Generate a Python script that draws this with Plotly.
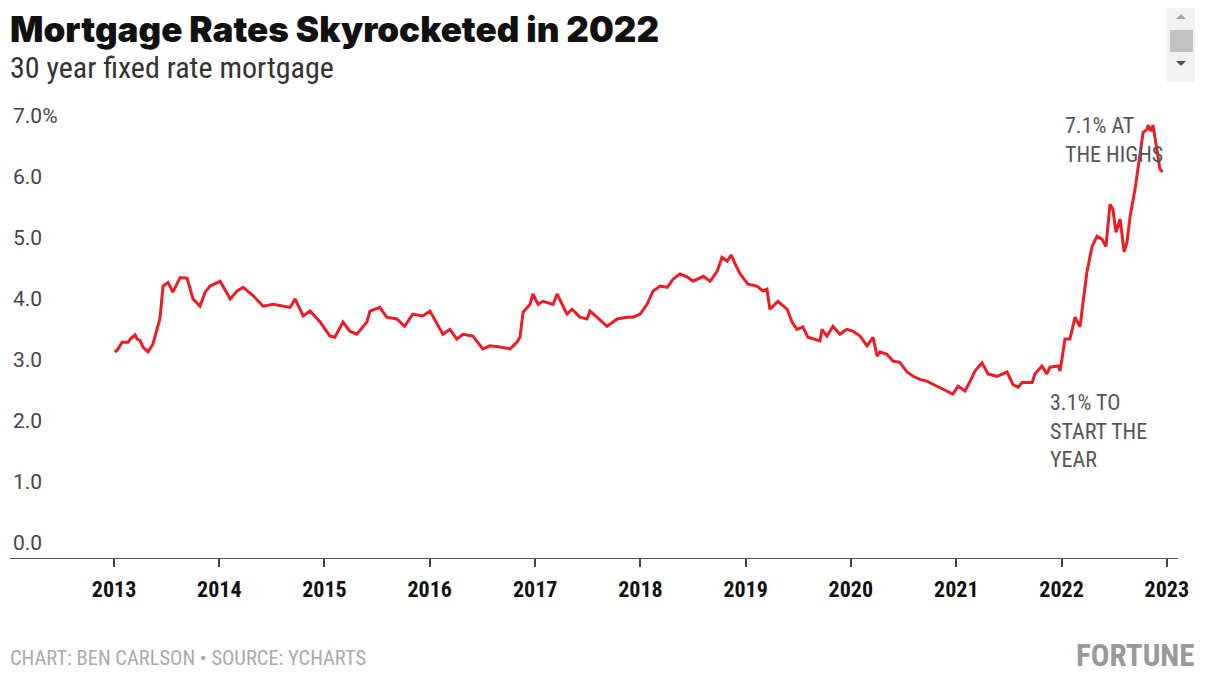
import plotly.graph_objects as go

# Freddie Mac 30 year fixed rate
dates_2013 = ["2013-01-03", "2013-01-12", "2013-01-29", "2013-02-19", "2013-02-26", "2013-03-15",
              "2013-03-22", "2013-04-01", "2013-04-11", "2013-04-29", "2013-05-16", "2013-05-30",
              "2013-06-09", "2013-06-20", "2013-07-07", "2013-07-24", "2013-08-18", "2013-09-11",
              "2013-10-02", "2013-10-26", "2013-11-13", "2013-11-30"]
rates_2013 = [3.38, 3.41, 3.54, 3.54, 3.59, 3.66, 3.59, 3.57, 3.46, 3.38, 3.51, 3.75,
              3.92, 4.46, 4.52, 4.36, 4.60, 4.59, 4.25, 4.13, 4.36, 4.46]

dates_2014 = ["2014-01-04", "2014-02-08", "2014-03-04", "2014-03-25", "2014-04-29", "2014-06-02",
              "2014-07-07", "2014-09-04", "2014-09-21", "2014-10-19", "2014-11-12", "2014-12-17"]
rates_2014 = [4.54, 4.25, 4.38, 4.44, 4.30, 4.13, 4.16, 4.11, 4.25, 3.97, 4.05, 3.87]

dates_2015 = ["2015-01-20", "2015-02-06", "2015-03-06", "2015-03-30", "2015-04-23", "2015-05-28",
              "2015-06-08", "2015-07-12", "2015-08-05", "2015-09-09", "2015-10-06", "2015-11-03",
              "2015-12-08"]
rates_2015 = [3.64, 3.62, 3.87, 3.72, 3.67, 3.87, 4.05, 4.11, 3.95, 3.92, 3.80, 4.00, 3.97]

dates_2016 = ["2016-01-02", "2016-01-26", "2016-02-16", "2016-03-11", "2016-04-04", "2016-04-25",
              "2016-05-30", "2016-07-03", "2016-07-28", "2016-09-01", "2016-10-06", "2016-10-30",
              "2016-11-09", "2016-11-20", "2016-12-14", "2016-12-24"]
rates_2016 = [4.05, 3.84, 3.67, 3.75, 3.59, 3.67, 3.64, 3.43, 3.48, 3.46, 3.43, 3.54,
              3.62, 4.03, 4.16, 4.33]

dates_2017 = ["2017-01-11", "2017-01-28", "2017-03-04", "2017-03-18", "2017-04-08", "2017-04-21",
              "2017-05-09", "2017-06-05", "2017-06-30", "2017-07-10", "2017-08-03", "2017-09-07",
              "2017-10-12", "2017-11-15", "2017-12-06", "2017-12-31"]
rates_2017 = [4.16, 4.21, 4.16, 4.33, 4.13, 4.00, 4.08, 3.95, 3.92, 4.05, 3.95, 3.80,
              3.92, 3.95, 3.95, 4.00]

dates_2018 = ["2018-01-24", "2018-02-14", "2018-03-10", "2018-04-04", "2018-04-24", "2018-05-18",
              "2018-06-12", "2018-07-03", "2018-08-07", "2018-08-31", "2018-09-24", "2018-10-11",
              "2018-10-29", "2018-11-12", "2018-11-26", "2018-12-13"]
rates_2018 = [4.16, 4.38, 4.46, 4.44, 4.57, 4.66, 4.61, 4.54, 4.62, 4.54, 4.70, 4.93,
              4.87, 4.97, 4.82, 4.66]

dates_2019 = ["2019-01-09", "2019-02-09", "2019-03-02", "2019-03-16", "2019-03-26", "2019-04-23",
              "2019-05-25", "2019-06-11", "2019-06-28", "2019-07-19", "2019-08-05", "2019-08-23",
              "2019-09-16", "2019-09-23", "2019-10-10", "2019-10-31", "2019-11-24", "2019-12-18"]
rates_2019 = [4.49, 4.46, 4.38, 4.41, 4.08, 4.21, 4.08, 3.87, 3.75, 3.79, 3.62, 3.59,
              3.56, 3.75, 3.64, 3.80, 3.67, 3.75]

dates_2020 = ["2020-01-08", "2020-02-02", "2020-02-26", "2020-03-18", "2020-04-01", "2020-04-11",
              "2020-05-05", "2020-05-26", "2020-06-19", "2020-07-14", "2020-08-04", "2020-08-28",
              "2020-09-21", "2020-10-12", "2020-11-16", "2020-12-20"]
rates_2020 = [3.72, 3.64, 3.48, 3.62, 3.31, 3.38, 3.34, 3.23, 3.21, 3.05, 2.98, 2.93,
              2.90, 2.85, 2.77, 2.69]

dates_2021 = ["2021-01-07", "2021-01-31", "2021-02-18", "2021-03-07", "2021-03-31", "2021-04-21",
              "2021-05-22", "2021-06-26", "2021-07-17", "2021-08-04", "2021-08-17", "2021-09-21",
              "2021-10-01", "2021-10-25", "2021-11-11", "2021-11-22", "2021-12-20", "2021-12-27"]
rates_2021 = [2.82, 2.74, 2.90, 3.07, 3.20, 3.02, 2.98, 3.05, 2.84, 2.80, 2.88, 2.88,
              3.02, 3.15, 3.02, 3.13, 3.15, 3.07]

dates_2022 = ["2022-01-13", "2022-01-30", "2022-02-17", "2022-03-06", "2022-03-30", "2022-04-17",
              "2022-05-04", "2022-05-21", "2022-06-04", "2022-06-18", "2022-06-28", "2022-07-09",
              "2022-07-23", "2022-08-06", "2022-08-16", "2022-08-27", "2022-09-13", "2022-09-30",
              "2022-10-11", "2022-10-25", "2022-10-28", "2022-11-07", "2022-11-14", "2022-11-28",
              "2022-12-08", "2022-12-18"]
rates_2022 = [3.59, 3.59, 3.95, 3.79, 4.69, 5.11, 5.28, 5.23, 5.11, 5.80, 5.72, 5.34,
              5.56, 5.02, 5.18, 5.61, 6.05, 6.67, 6.98, 7.03, 7.10, 7.00, 7.10, 6.70,
              6.38, 6.33]

dates = (dates_2013 + dates_2014 + dates_2015 + dates_2016 + dates_2017 + dates_2018
         + dates_2019 + dates_2020 + dates_2021 + dates_2022)
rates = (rates_2013 + rates_2014 + rates_2015 + rates_2016 + rates_2017 + rates_2018
         + rates_2019 + rates_2020 + rates_2021 + rates_2022)

year_ticks = [f"{y}-01-01" for y in range(2013, 2024)]
year_labels = [str(y) for y in range(2013, 2024)]
y_ticks = [0, 1, 2, 3, 4, 5, 6, 7]
y_labels = ["0.0", "1.0", "2.0", "3.0", "4.0", "5.0", "6.0", "7.0%"]

# page is 1216x676 but the html body has an 8px margin
PAGE_W, PAGE_H = 1216, 676
OFF = 8
W, H = PAGE_W - OFF, PAGE_H - OFF
# plot area edges in page pixels
P_L, P_R, P_T, P_B = 10, 1178, 94, 558

RED = "#EE1D25"
NARROW = "Liberation Sans Narrow, Roboto Condensed, Roboto"
FONT = "Roboto"


def paper(x, y):
    # page pixel -> paper coordinates
    return (x - P_L) / (P_R - P_L), (P_B - y) / (P_B - P_T)


fig = go.Figure()

fig.add_trace(go.Scatter(
    x=dates, y=rates,
    mode="lines",
    line=dict(color=RED, width=3),
    hovertemplate="%{x|%b %d, %Y}: %{y:.2f}%<extra></extra>",
))

annotations = []

tx, ty = paper(8, 29)
annotations.append(dict(text="Mortgage Rates Skyrocketed in 2022", x=tx, y=ty,
                        xanchor="left", yanchor="middle",
                        font=dict(family="Inter, Roboto", size=35, weight=900, color="#111111")))
tx, ty = paper(8, 68)
annotations.append(dict(text="30 year fixed rate mortgage", x=tx, y=ty,
                        xanchor="left", yanchor="middle",
                        font=dict(family=NARROW, size=30, color="#333333")))

# callouts
annotations.append(dict(text="7.1% AT<br>THE HIGHS", x="2022-01-07", y=6.86,
                        xref="x", yref="y", xanchor="left", yanchor="middle", align="left",
                        font=dict(family=NARROW, size=22, color="#555555")))
annotations.append(dict(text="3.1% TO<br>START THE<br>YEAR", x="2021-11-14", y=2.08,
                        xref="x", yref="y", xanchor="left", yanchor="middle", align="left",
                        font=dict(family=NARROW, size=22, color="#555555")))

# footer
tx, ty = paper(8, 658)
annotations.append(dict(text="CHART: BEN CARLSON • SOURCE: YCHARTS", x=tx, y=ty,
                        xanchor="left", yanchor="middle",
                        font=dict(family=NARROW, size=20.5, color="#aaaaaa")))
tx, ty = paper(1197, 655)
annotations.append(dict(text="<b>FORTUNE</b>", x=tx, y=ty,
                        xanchor="right", yanchor="middle",
                        font=dict(family=NARROW, size=31, color="#999999")))

for a in annotations:
    a.setdefault("xref", "paper")
    a.setdefault("yref", "paper")
    a["showarrow"] = False

# scrollbar widget in the top right corner of the embed
shapes = []
x0, y0 = paper(1167, 2)
x1, y1 = paper(1195, 82)
shapes.append(dict(type="rect", x0=x0, y0=y0, x1=x1, y1=y1,
                   fillcolor="#f1f1f1", line_width=0))
x0, y0 = paper(1170, 30)
x1, y1 = paper(1193, 52)
shapes.append(dict(type="rect", x0=x0, y0=y0, x1=x1, y1=y1,
                   fillcolor="#c1c1c1", line_width=0))
ax, ay = paper(1176, 19)
bx, by = paper(1181, 14)
cx, cy = paper(1186, 19)
shapes.append(dict(type="path", path=f"M {ax},{ay} L {bx},{by} L {cx},{cy} Z",
                   fillcolor="#a3a3a3", line_width=0))
ax, ay = paper(1176, 61)
bx, by = paper(1181, 66)
cx, cy = paper(1186, 61)
shapes.append(dict(type="path", path=f"M {ax},{ay} L {bx},{by} L {cx},{cy} Z",
                   fillcolor="#505050", line_width=0))
for s in shapes:
    s["xref"] = "paper"
    s["yref"] = "paper"
    s["layer"] = "above"

fig.update_layout(
    width=W, height=H,
    showlegend=False,
    paper_bgcolor="white",
    plot_bgcolor="white",
    margin=dict(l=P_L - OFF, r=PAGE_W - P_R, t=P_T - OFF, b=PAGE_H - P_B),
    font=dict(family=FONT, color="#444444"),
    annotations=annotations,
    shapes=shapes,
    xaxis=dict(
        type="date",
        range=["2012-01-06", "2023-02-09"],
        tickvals=year_ticks,
        ticktext=year_labels,
        tickfont=dict(family=NARROW, size=22, weight=700, color="#111111"),
        ticks="outside", ticklen=8, tickwidth=1.5, tickcolor="#444444",
        ticklabelstandoff=4,
        showline=True, linecolor="#555555", linewidth=1,
        showgrid=False, zeroline=False,
    ),
    yaxis=dict(
        range=[0, 7.61],
        tickvals=y_ticks,
        ticktext=y_labels,
        ticklabelposition="inside top",
        ticklabelshift=-1,
        tickfont=dict(family=FONT, size=21, color="#444444"),
        ticks="",
        showgrid=False, zeroline=False, showline=False,
    ),
)

fig.write_html("out.html")
